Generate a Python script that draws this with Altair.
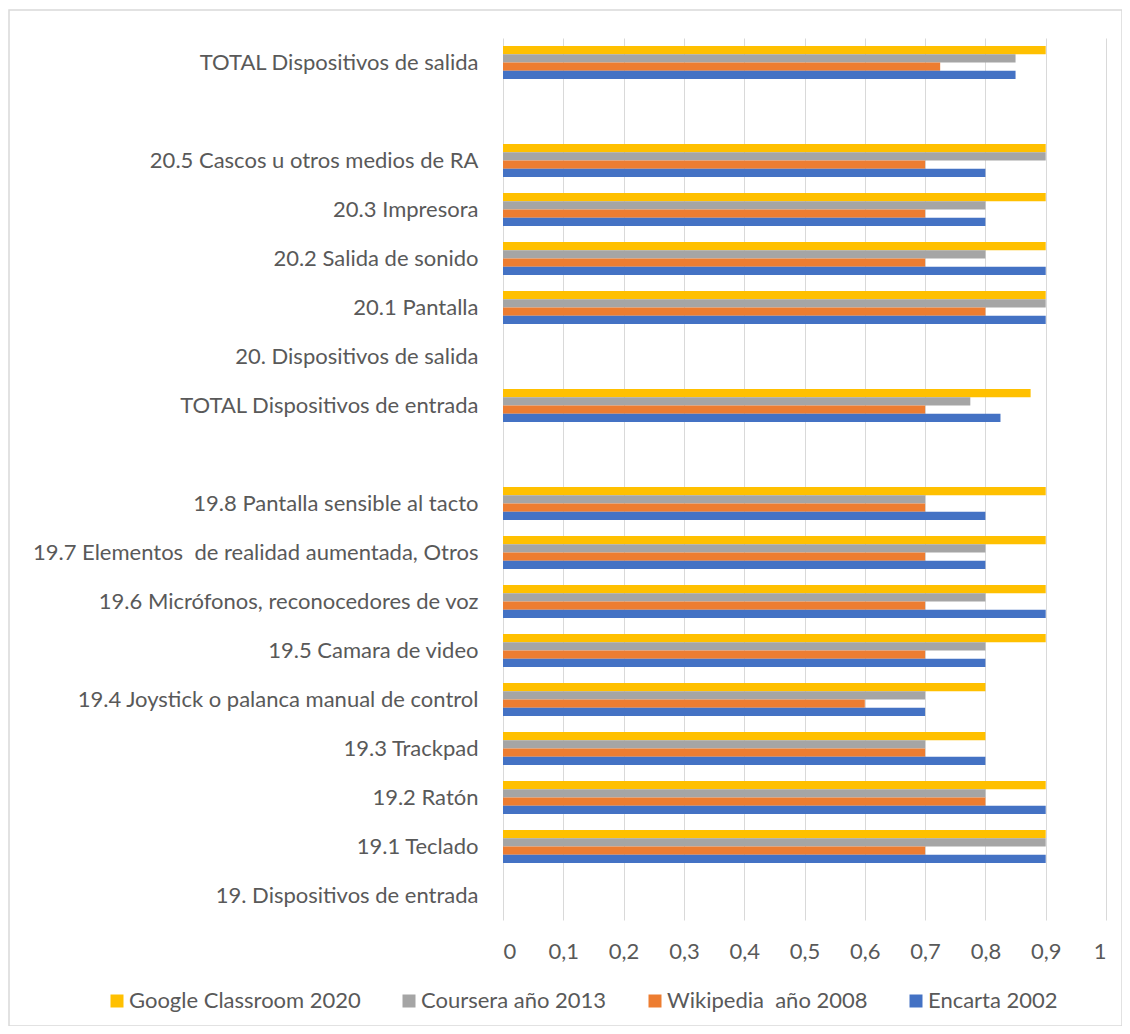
import altair as alt
import pandas as pd

categories = [
    "TOTAL Dispositivos de salida",
    " ",
    "20.5 Cascos u otros medios de RA",
    "20.3 Impresora",
    "20.2 Salida de sonido",
    "20.1 Pantalla",
    "20. Dispositivos de salida",
    "TOTAL Dispositivos de entrada",
    "  ",
    "19.8 Pantalla sensible al tacto",
    "19.7 Elementos\u00a0 de realidad aumentada, Otros",
    "19.6 Micrófonos, reconocedores de voz",
    "19.5 Camara de video",
    "19.4 Joystick o palanca manual de control",
    "19.3 Trackpad",
    "19.2 Ratón",
    "19.1 Teclado",
    "19. Dispositivos de entrada",
]

series = ["Google Classroom 2020", "Coursera año 2013", "Wikipedia\u00a0 año 2008", "Encarta 2002"]
colors = ["#FFC000", "#A5A5A5", "#ED7D31", "#4472C4"]

google = [0.9, None, 0.9, 0.9, 0.9, 0.9, None, 0.875, None, 0.9, 0.9, 0.9, 0.9, 0.8, 0.8, 0.9, 0.9, None]
coursera = [0.85, None, 0.9, 0.8, 0.8, 0.9, None, 0.775, None, 0.7, 0.8, 0.8, 0.8, 0.7, 0.7, 0.8, 0.9, None]
wikipedia = [0.725, None, 0.7, 0.7, 0.7, 0.8, None, 0.7, None, 0.7, 0.7, 0.7, 0.7, 0.6, 0.7, 0.8, 0.7, None]
encarta = [0.85, None, 0.8, 0.8, 0.9, 0.9, None, 0.825, None, 0.8, 0.8, 0.9, 0.8, 0.7, 0.8, 0.9, 0.9, None]

x_ticks = [0, 0.1, 0.2, 0.3, 0.4, 0.5, 0.6, 0.7, 0.8, 0.9, 1]

rows = []
for name, vals in zip(series, [google, coursera, wikipedia, encarta]):
    for cat, v in zip(categories, vals):
        if v is not None:
            rows.append({"categoria": cat, "serie": name, "valor": v})
df = pd.DataFrame(rows)

FONT = "Lato"
TXT = "#595959"
FS = 22

bars = alt.Chart(df).mark_bar().encode(
    x=alt.X(
        "valor:Q",
        scale=alt.Scale(domain=[0, 1], nice=False),
        axis=alt.Axis(
            values=x_ticks,
            title=None,
            domain=False,
            ticks=False,
            grid=True,
            gridColor="#D9D9D9",
            gridWidth=1,
            labelPadding=21,
            labelFontSize=FS,
            labelColor=TXT,
            labelFont=FONT,
            labelExpr="replace(format(datum.value, '.1~f'), '.', ',')",
        ),
    ),
    y=alt.Y(
        "categoria:N",
        sort=categories,
        scale=alt.Scale(domain=categories, paddingInner=0.33, paddingOuter=0.165),
        axis=alt.Axis(
            title=None,
            domain=False,
            ticks=False,
            grid=False,
            labelPadding=25,
            labelFontSize=FS,
            labelColor=TXT,
            labelFont=FONT,
            labelLimit=600,
        ),
    ),
    yOffset=alt.YOffset("serie:N", sort=series, scale=alt.Scale(domain=series, paddingInner=0, paddingOuter=0)),
    color=alt.Color(
        "serie:N",
        sort=series,
        scale=alt.Scale(domain=series, range=colors),
        legend=alt.Legend(
            title=None,
            orient="none",
            direction="horizontal",
            columns=4,
            legendX=-397,
            legendY=952,
            symbolType="square",
            symbolSize=169,
            symbolStrokeWidth=0,
            labelFontSize=FS,
            labelFont=FONT,
            labelColor=TXT,
            labelOffset=1,
            columnPadding=37,
            labelLimit=400,
        ),
    ),
)

frame = alt.Chart(alt.Data(values=[{}])).mark_rect(
    filled=False, stroke="#D9D9D9", strokeWidth=1.5
).encode(
    x=alt.value(-494),
    x2=alt.value(619),
    y=alt.value(-28),
    y2=alt.value(988),
)

chart = alt.layer(frame, bars).properties(
    width=603,
    height=882,
    padding={"left": 495, "top": 30, "right": 16, "bottom": 106},
    autosize=alt.AutoSizeParams(type="none"),
    background="white",
).configure_view(stroke=None)

chart.save("out.html", embed_options={"renderer": "svg", "actions": False})
